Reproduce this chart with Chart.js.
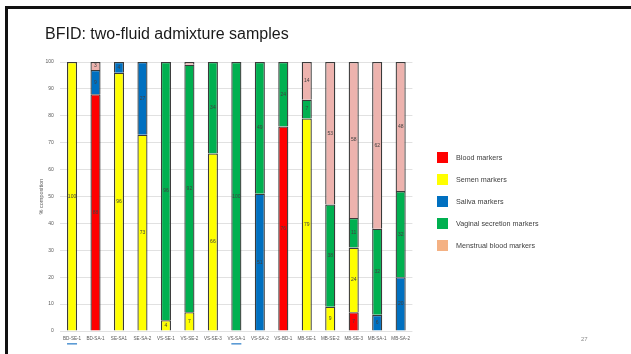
<!DOCTYPE html>
<html>
<head>
<meta charset="utf-8">
<script src="https://cdn.jsdelivr.net/npm/chart.js@4/dist/chart.umd.min.js"></script>
<style>
  html, body { margin: 0; padding: 0; background: #fff; }
  #slide { position: relative; width: 631px; height: 354px; overflow: hidden; font-family: "Liberation Sans", Arial, sans-serif; }
  #frameTop { position: absolute; left: 5px; top: 6px; width: 626px; height: 2.5px; background: #111; }
  #frameLeft { position: absolute; left: 5px; top: 6px; width: 2.5px; height: 348px; background: #111; }
  #title { position: absolute; left: 45px; top: 26px; font-size: 16px; line-height: 16px; color: #1a1a1a; white-space: nowrap; }
  #chart { position: absolute; left: 0; top: 0; }
  .lg-item { position: absolute; left: 437px; height: 11px; }
  .lg-box { position: absolute; left: 0; top: 0; width: 11px; height: 11px; }
  .lg-text { position: absolute; left: 19px; top: 0; font-size: 7.2px; line-height: 11px; color: #404040; white-space: nowrap; }
  #page { position: absolute; left: 581px; top: 336px; font-size: 6px; line-height: 7px; color: #8c8c8c; }
</style>
</head>
<body>
<div id="slide">
  <canvas id="chart" width="631" height="354"></canvas>
  <div id="frameTop"></div>
  <div id="frameLeft"></div>
  <div id="title">BFID: two-fluid admixture samples</div>
  <div id="legend"></div>
  <div id="page">27</div>
</div>
<script>
// Sample names along the x axis
const categories = ['BD-SE-1', 'BD-SA-1', 'SE-SA1', 'SE-SA-2', 'VS-SE-1', 'VS-SE-2', 'VS-SE-3',
  'VS-SA-1', 'VS-SA-2', 'VS-BD-1', 'MB-SE-1', 'MB-SE-2', 'MB-SE-3', 'MB-SA-1', 'MB-SA-2'];

// % composition of each marker group per sample (null = not detected)
const bloodValues     = [null, 88, null, null, null, null, null, null, null, 76, null, null, 7, null, null];
const semenValues     = [100, null, 96, 73, 4, 7, 66, null, null, null, 79, 9, 24, null, null];
const salivaValues    = [null, 9, 4, 27, null, null, null, null, 51, null, null, null, null, 6, 20];
const vaginalValues   = [null, null, null, null, 96, 92, 34, 100, 49, 24, 7, 38, 11, 32, 32];
const menstrualValues = [null, 3, null, null, null, 1, null, null, null, null, 14, 53, 58, 62, 48];

const seriesNames = ['Blood markers', 'Semen markers', 'Saliva markers', 'Vaginal secretion markers', 'Menstrual blood markers'];
const barColors    = ['#FF0000', '#FFFF00', '#0070C0', '#00B050', '#EDB3AE'];
const legendColors = ['#FF0000', '#FFFF00', '#0070C0', '#00B050', '#F4B183'];

// y axis tick values
const yTickValues = [0, 10, 20, 30, 40, 50, 60, 70, 80, 90, 100];

// samples whose labels carry a blue underline
const underlinedLabels = ['BD-SE-1', 'VS-SA-1'];

const seriesValues = [bloodValues, semenValues, salivaValues, vaginalValues, menstrualValues];

// Legend (HTML) built from the series names and colours
const legendEl = document.getElementById('legend');
seriesNames.forEach((name, i) => {
  const item = document.createElement('div');
  item.className = 'lg-item';
  item.style.top = (151.5 + i * 22.2) + 'px';
  item.innerHTML = '<div class="lg-box" style="background:' + legendColors[i] + '"></div>' +
                   '<div class="lg-text">' + name + '</div>';
  legendEl.appendChild(item);
});

// Value labels in the middle of each stacked segment
const segmentLabels = {
  id: 'segmentLabels',
  afterDatasetsDraw(chart) {
    const ctx = chart.ctx;
    ctx.save();
    ctx.font = '5px "Liberation Sans", Arial, sans-serif';
    ctx.fillStyle = '#404040';
    ctx.textAlign = 'center';
    ctx.textBaseline = 'middle';
    chart.data.datasets.forEach((ds, i) => {
      const meta = chart.getDatasetMeta(i);
      meta.data.forEach((bar, j) => {
        const v = ds.data[j];
        if (v == null || v < 2) return;
        const p = bar.getProps(['x', 'y', 'base'], true);
        ctx.fillText(String(v), p.x, (p.y + p.base) / 2);
      });
    });
    ctx.restore();
  }
};

// Short blue underline beneath selected category labels
const labelUnderline = {
  id: 'labelUnderline',
  afterDraw(chart) {
    const xs = chart.scales.x;
    const ctx = chart.ctx;
    ctx.save();
    ctx.fillStyle = '#5B9BD5';
    underlinedLabels.forEach(lbl => {
      const idx = categories.indexOf(lbl);
      if (idx < 0) return;
      const cx = xs.getPixelForValue(idx);
      ctx.fillRect(cx - 5, 343, 10, 1.6);
    });
    ctx.restore();
  }
};

new Chart(document.getElementById('chart'), {
  type: 'bar',
  data: {
    labels: categories,
    datasets: seriesNames.map((name, i) => ({
      label: name,
      data: seriesValues[i],
      backgroundColor: barColors[i],
      borderColor: '#3a3a3a',
      borderWidth: 1.3,
      barPercentage: 0.43,
      categoryPercentage: 1.0
    }))
  },
  options: {
    responsive: false,
    animation: false,
    layout: { padding: { left: 34, top: 62, right: 218.6, bottom: 0 } },
    plugins: { legend: { display: false }, tooltip: { enabled: false }, title: { display: false } },
    scales: {
      x: {
        stacked: true,
        grid: { display: false, drawTicks: false },
        border: { display: false },
        ticks: {
          autoSkip: false, maxRotation: 0, minRotation: 0, padding: 5,
          color: '#595959', font: { family: '"Liberation Sans", Arial, sans-serif', size: 4.6 }
        },
        afterFit(scale) { scale.height = 23; }
      },
      y: {
        stacked: true,
        min: 0, max: 100,
        afterBuildTicks(scale) { scale.ticks = yTickValues.map(v => ({ value: v })); },
        grid: { color: '#D9D9D9', lineWidth: 0.8, drawTicks: false },
        border: { display: false },
        ticks: {
          padding: 6.5, color: '#595959',
          font: { family: '"Liberation Sans", Arial, sans-serif', size: 5 }
        },
        title: {
          display: true, text: '% composition', color: '#595959',
          font: { family: '"Liberation Sans", Arial, sans-serif', size: 5.5 },
          padding: { top: 4, bottom: 4 }
        },
        afterFit(scale) { scale.width = 26.3; }
      }
    }
  },
  plugins: [segmentLabels, labelUnderline]
});
</script>
</body>
</html>
